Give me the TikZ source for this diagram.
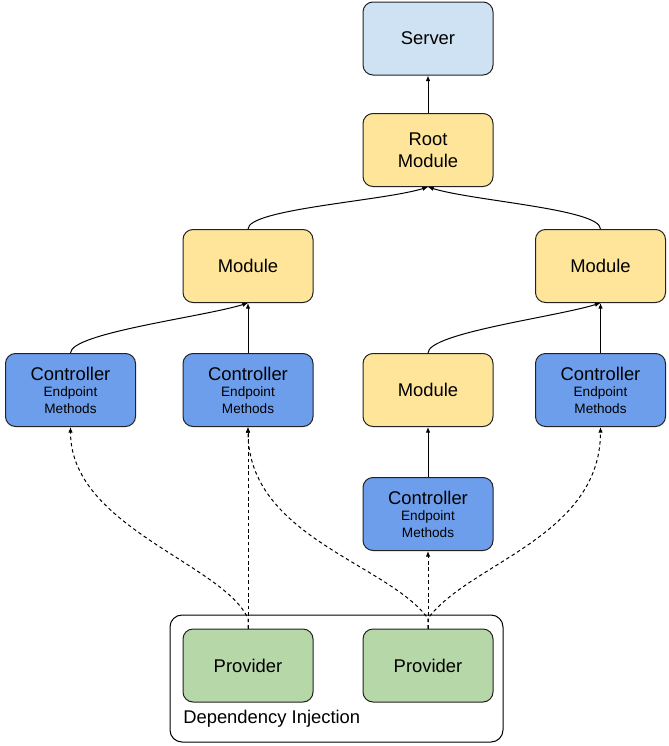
\documentclass[tikz,border=0pt]{standalone}
\usepackage{fontspec}
\setmainfont{Liberation Sans}
\usetikzlibrary{arrows.meta,calc}
\definecolor{srvblue}{HTML}{CFE2F3}
\definecolor{modyel}{HTML}{FFE599}
\definecolor{ctlblue}{HTML}{6D9EEB}
\definecolor{provgreen}{HTML}{B6D7A8}
\definecolor{edge}{HTML}{222222}
\begin{document}
\begin{tikzpicture}[x=0.75pt,y=-0.75pt,
  box/.style={draw=edge,line width=0.75pt,rounded corners=7.5pt,minimum width=97.5pt,minimum height=54.75pt,inner sep=0pt,align=center,text depth=-1pt,font=\fontsize{13.8}{16.3}\selectfont},
  srv/.style={box,fill=srvblue},
  modbox/.style={box,fill=modyel},
  ctl/.style={box,fill=ctlblue,font=\fontsize{10.2}{12.2}\selectfont},
  prov/.style={box,fill=provgreen},
  dibox/.style={draw=black,line width=0.75pt,rounded corners=9pt},
  conn/.style={line width=0.75pt,-{Latex[length=4.2pt,width=3.4pt]}},
  dconn/.style={conn,dash pattern=on 2.6pt off 2.2pt}
]
\useasboundingbox (0,0) rectangle (668,746);
\newcommand{\ctltext}{{\fontsize{13.8}{16}\selectfont Controller}\\[0.3pt]Endpoint\\Methods}
% container
\node[dibox,minimum width=249.75pt,minimum height=95.25pt,inner sep=0pt] (di) at (336.5,678.5) {};
\node[anchor=base west,inner sep=0pt,font=\fontsize{13.8}{16}\selectfont] (dilabel) at (183,723.5) {Dependency Injection};
% nodes
\node[srv] (server) at (428,38.5) {Server};
\node[modbox] (root) at (428,150) {Root\\Module};
\node[modbox] (ml) at (248,266) {Module};
\node[modbox] (mr) at (600.5,266) {Module};
\node[ctl] (c1) at (70.5,390) {\ctltext};
\node[ctl] (c2) at (248,390) {\ctltext};
\node[modbox] (mm) at (428,390) {Module};
\node[ctl] (c4) at (600.5,390) {\ctltext};
\node[ctl] (c3) at (428,514) {\ctltext};
\node[prov] (p1) at (248,665.5) {Provider};
\node[prov] (p2) at (428,665.5) {Provider};
% junction points
\coordinate (j1) at ($(p1.north)+(0,-10)$);
\coordinate (j2) at ($(p2.north)+(0,-10)$);
% solid connectors
\draw[conn] (root.north) -- (server.south);
\draw[conn] (ml.north) .. controls +(0,-20) and +(-45,14) .. (root.south);
\draw[conn] (mr.north) .. controls +(0,-20) and +(45,14) .. (root.south);
\draw[conn] (c1.north) .. controls +(0,-20) and +(-45,14) .. (ml.south);
\draw[conn] (c2.north) -- (ml.south);
\draw[conn] (mm.north) .. controls +(0,-20) and +(-45,14) .. (mr.south);
\draw[conn] (c4.north) -- (mr.south);
\draw[conn] (c3.north) -- (mm.south);
% dashed connectors
\draw[dconn] (p1.north) -- (j1) .. controls +(-25,-55) and +(0,100) .. (c1.south);
\draw[dconn] (p1.north) -- (c2.south);
\draw[dconn] (p2.north) -- (j2) .. controls +(-40,-55) and +(0,110) .. (c2.south);
\draw[dconn] (p2.north) -- (c3.south);
\draw[dconn] (p2.north) -- (j2) .. controls +(40,-55) and +(0,110) .. (c4.south);
\end{tikzpicture}
\end{document}
